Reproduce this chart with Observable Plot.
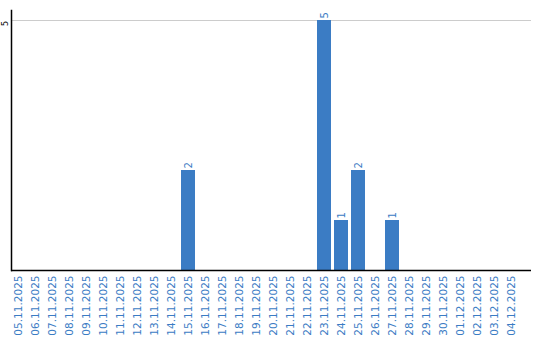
<!DOCTYPE html>
<html><head><meta charset="utf-8">
<script src="https://cdn.jsdelivr.net/npm/d3@7"></script>
<script src="https://cdn.jsdelivr.net/npm/@observablehq/plot@0.6"></script>
<style>body{margin:0;background:#fff}</style>
</head><body><div id="chart"></div>
<script>
const dates = ["05.11.2025","06.11.2025","07.11.2025","08.11.2025","09.11.2025","10.11.2025","11.11.2025","12.11.2025","13.11.2025","14.11.2025","15.11.2025","16.11.2025","17.11.2025","18.11.2025","19.11.2025","20.11.2025","21.11.2025","22.11.2025","23.11.2025","24.11.2025","25.11.2025","26.11.2025","27.11.2025","28.11.2025","29.11.2025","30.11.2025","01.12.2025","02.12.2025","03.12.2025","04.12.2025"];
const counts = [0,0,0,0,0,0,0,0,0,0,2,0,0,0,0,0,0,0,5,1,2,0,1,0,0,0,0,0,0,0];
const yTicks = [5];
const data = dates.map((d, i) => ({date: d, count: counts[i]}));
const nonzero = data.filter(d => d.count > 0);
const blue = "#3b7cc4";
const chart = Plot.plot({
  width: 540, height: 340,
  marginTop: 10, marginBottom: 70, marginLeft: 11, marginRight: 9,
  style: {fontFamily: "DejaVu Sans, Verdana, sans-serif", fontSize: "10.5px"},
  x: {domain: dates, range: [11, 518], paddingInner: 3/17, paddingOuter: 0, align: 0},
  y: {domain: [0, 5.2], axis: null},
  marks: [
    Plot.ruleY(yTicks, {stroke: "#cccccc", strokeWidth: 1}),
    Plot.barY(nonzero, {x: "date", y: "count", fill: blue}),
    Plot.text(nonzero, {x: "date", y: "count", text: d => String(d.count), rotate: -90, textAnchor: "start", lineAnchor: "middle", dy: -2, fill: blue, fontSize: 10}),
    Plot.axisX({tickRotate: -90, tickSize: 0, tickPadding: 5, fill: blue, fontSize: 10.5, label: null}),
    Plot.text(yTicks, {y: d => d, frameAnchor: "left", text: d => String(d), rotate: -90, textAnchor: "middle", lineAnchor: "middle", dx: -6.5, dy: 3, fill: "#000", fontSize: 8}),
    Plot.ruleY([0], {stroke: "#000", strokeWidth: 1.5}),
    Plot.frame({anchor: "left", stroke: "#000", strokeWidth: 1.5})
  ]
});
document.getElementById("chart").appendChild(chart);
</script>
</body></html>
